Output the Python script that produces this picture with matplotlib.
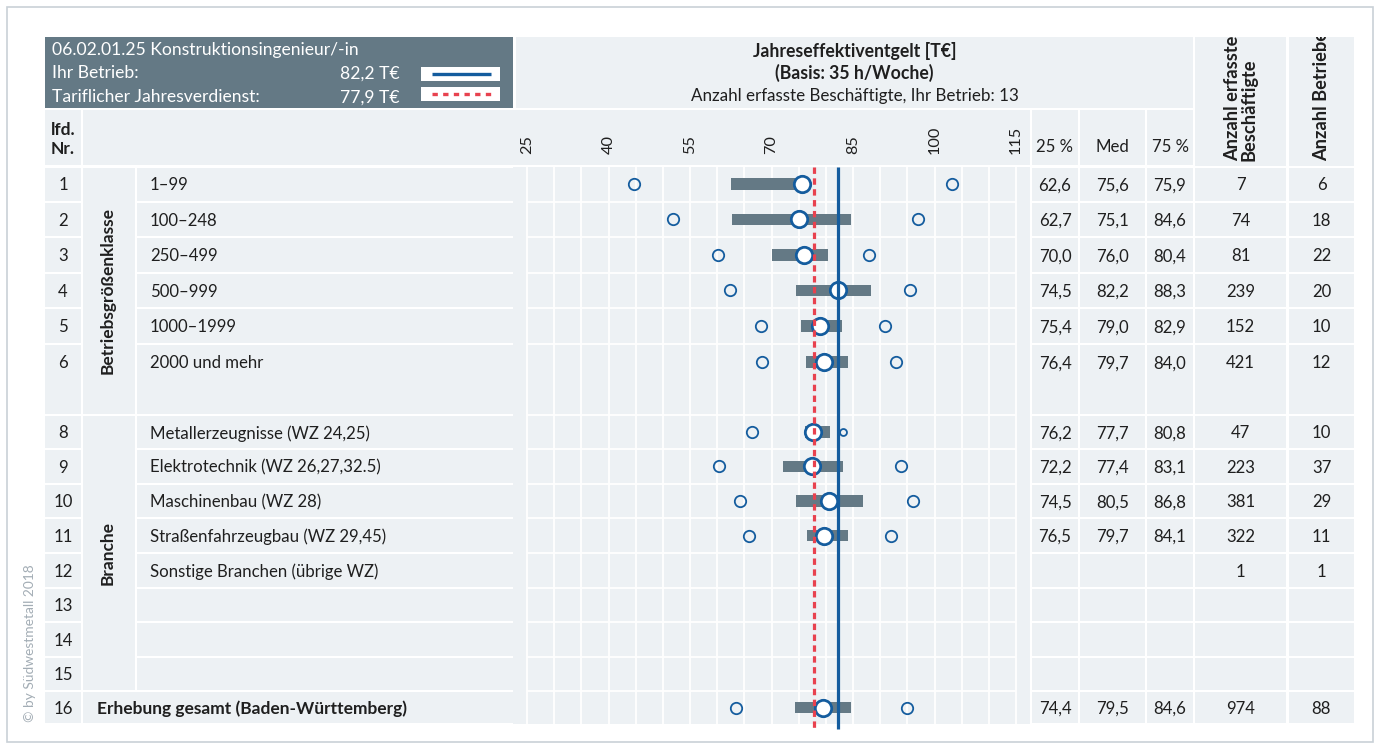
import matplotlib
matplotlib.use("Agg")
import matplotlib.pyplot as plt
from matplotlib.patches import Rectangle
from matplotlib.transforms import Bbox
import numpy as np

# ---------------- data ----------------
row_nr = [1, 2, 3, 4, 5, 6, 8, 9, 10, 11, 12, 13, 14, 15, 16]
row_labels = ["1–99", "100–248", "250–499", "500–999", "1000–1999", "2000 und mehr",
              "Metallerzeugnisse (WZ 24,25)", "Elektrotechnik (WZ 26,27,32.5)",
              "Maschinenbau (WZ 28)", "Straßenfahrzeugbau (WZ 29,45)",
              "Sonstige Branchen (übrige WZ)", "", "", "",
              "Erhebung gesamt (Baden-Württemberg)"]
q25 = [62.6, 62.7, 70.0, 74.5, 75.4, 76.4, 76.2, 72.2, 74.5, 76.5, None, None, None, None, 74.4]
median = [75.6, 75.1, 76.0, 82.2, 79.0, 79.7, 77.7, 77.4, 80.5, 79.7, None, None, None, None, 79.5]
q75 = [75.9, 84.6, 80.4, 88.3, 82.9, 84.0, 80.8, 83.1, 86.8, 84.1, None, None, None, None, 84.6]
p10 = [44.7, 51.9, 60.2, 62.4, 68.0, 68.2, 66.5, 60.4, 64.2, 65.8, None, None, None, None, 63.5]
p90 = [103.3, 96.9, 87.9, 95.5, 90.8, 93.0, 83.2, 93.9, 96.1, 92.0, None, None, None, None, 94.9]
n_employees = [7, 74, 81, 239, 152, 421, 47, 223, 381, 322, 1, None, None, None, 974]
n_firms = [6, 18, 22, 20, 10, 12, 10, 37, 29, 11, 1, None, None, None, 88]
groups = [("Betriebsgrößenklasse", 1, 7), ("Branche", 8, 15)]
total_row = 16
your_company = 82.2
tariff = 77.9
x_ticks = [25, 40, 55, 70, 85, 100, 115]
x_grid_step = 5
title_job = "06.02.01.25 Konstruktionsingenieur/-in"
label_your = "Ihr Betrieb:"
label_tariff = "Tariflicher Jahresverdienst:"
n_your = 13
title_lines = ["Jahreseffektiventgelt [T€]", "(Basis: 35 h/Woche)"]
sub_title = f"Anzahl erfasste Beschäftigte, Ihr Betrieb: {n_your}"
col_heads = ["25 %", "Med", "75 %"]
col_count_heads = ["Anzahl erfasste\nBeschäftigte", "Anzahl Betriebe"]
nr_head = "lfd.\nNr."
copyright_text = "© by Südwestmetall 2018"

# ---------------- style / layout ----------------
W, H = 1378, 749
FONT = ["Lato", "DejaVu Sans"]
SLATE = "#647985"
CELL = "#edf1f4"
TXT = "#1f1f1f"
BLUE = "#145c9e"
RED = "#e8424f"
BORDER = "#c9d1d7"
DY = 1.5   # small downward nudge of horizontal text

row_edges = [166.5, 201.5, 237, 272.5, 308, 344, 379.5, 415, 449, 483.5, 518,
             553, 587.5, 622, 656.5, 691, 724]
merged_down = {6: 7}          # row 6 cell also covers the empty row 7
cols = {"nr": (45, 81), "grp": (83, 135), "lab": (137, 513), "panel": (513, 1030),
        "q25": (1032, 1078), "med": (1080, 1145), "q75": (1147, 1193),
        "nemp": (1195, 1286), "nfirm": (1289, 1354)}
grid_px = (527, 1016)      # pixel positions of x = 25 and x = 115

fig = plt.figure(figsize=(W / 100, H / 100), dpi=100)
bg = fig.add_axes([0, 0, 1, 1])
bg.set_xlim(0, W)
bg.set_ylim(H, 0)
bg.axis("off")
renderer = fig.canvas.get_renderer()


def fit(s, target, weight="normal"):
    t = fig.text(0, 0, s, fontsize=10, family=FONT, weight=weight)
    w = t.get_window_extent(renderer).width
    t.remove()
    return 10 * target / w


fs_body = fit("Straßenfahrzeugbau (WZ 29,45)", 237)
fs_bold = fit("Erhebung gesamt (Baden-Württemberg)", 311, "bold")
fs_head = fit(title_job, 308)
fs_title = fit(title_lines[0], 203, "bold")
fs_sub = fit(sub_title, 328)
fs_copy = fit(copyright_text, 157)


def rect(x0, y0, x1, y1, color, z=0):
    bg.add_patch(Rectangle((x0, y0), x1 - x0, y1 - y0, facecolor=color,
                           edgecolor="none", zorder=z))


def txt(x, y, s, size=None, color=TXT, weight="normal", ha="left", va="center",
        rotation=0, **kw):
    if rotation == 0 and va == "center":
        y = y + DY
    return bg.text(x, y, s, fontsize=size or fs_body, color=color, weight=weight,
                   ha=ha, va=va, family=FONT, rotation=rotation, **kw)


# outer frame
bg.add_patch(Rectangle((7, 7), 1366, 735, facecolor="white", edgecolor=BORDER,
                       lw=1.2, zorder=-1))
txt(30, 722, copyright_text, size=fs_copy, color="#a3adb5", ha="center",
    va="bottom", rotation=90)

# ---------- header ----------
rect(45, 37, 513, 108, SLATE)
txt(52, 48, title_job, size=fs_head, color="white")
txt(52, 72, label_your, size=fs_head, color="white")
txt(52, 96, label_tariff, size=fs_head, color="white")
txt(400, 72, f"{your_company:.1f} T€".replace(".", ","), size=fs_head, color="white", ha="right")
txt(400, 96, f"{tariff:.1f} T€".replace(".", ","), size=fs_head, color="white", ha="right")
rect(421, 67, 500, 81, "white", 1)
rect(421, 87, 500, 101, "white", 1)
bg.plot([432, 491], [74, 74], color=BLUE, lw=2.4, solid_capstyle="butt", zorder=2)
bg.plot([432, 491], [94, 94], color=RED, lw=2.4, ls=(0, (1.6, 1.6)), zorder=2)

rect(516, 37, 1193, 108, CELL)
txt(854.5, 49, title_lines[0], size=fs_title, weight="bold", ha="center")
txt(854.5, 71, title_lines[1], size=fs_title, weight="bold", ha="center")
txt(854.5, 94, sub_title, size=fs_sub, ha="center")

for key, head in zip(["nemp", "nfirm"], col_count_heads):
    x0, x1 = cols[key]
    rect(x0, 37, x1, 166, CELL)
    t = txt((x0 + x1) / 2, 161, head, size=fs_bold * 1.05, weight="bold", ha="center",
            va="bottom", rotation=90, multialignment="left", linespacing=0.95)
    t.set_clip_box(Bbox([[x0, H - 166], [x1, H - 37]]))
    t.set_clip_on(True)

rect(45, 110, 81, 165, CELL)
txt(51, 138, nr_head, size=fs_bold, weight="bold", linespacing=1.25)
rect(83, 110, 1030, 165, CELL)
for key, head in zip(["q25", "med", "q75"], col_heads):
    x0, x1 = cols[key]
    rect(x0, 110, x1, 165, CELL)
    txt((x0 + x1) / 2, 145, head, ha="center")


# ---------- body cells ----------
def row_span(nr):
    top = row_edges[nr - 1]
    bottom = row_edges[merged_down.get(nr, nr)]
    center = (row_edges[nr - 1] + row_edges[nr]) / 2
    return top, bottom, center


def fmt(v):
    return "" if v is None else f"{v:.1f}".replace(".", ",")


for i, nr in enumerate(row_nr):
    top, bottom, yc = row_span(nr)
    x0, x1 = cols["nr"]
    rect(x0, top + 1, x1, bottom - 1, CELL)
    txt((x0 + x1) / 2, yc, str(nr), ha="center")
    if nr == total_row:
        rect(cols["grp"][0], top + 1, cols["lab"][1] + 13, bottom - 1, CELL)
        txt(97, yc, row_labels[i], size=fs_bold, weight="bold")
    else:
        rect(cols["lab"][0], top + 1, cols["lab"][1], bottom - 1, CELL)
        txt(150, yc, row_labels[i])
    for key, vals in zip(["q25", "med", "q75"], [q25, median, q75]):
        c0, c1 = cols[key]
        rect(c0, top + 1, c1, bottom - 1, CELL)
        txt((c0 + c1) / 2, yc, fmt(vals[i]), ha="center")
    for key, vals in zip(["nemp", "nfirm"], [n_employees, n_firms]):
        c0, c1 = cols[key]
        rect(c0, top + 1, c1, bottom - 1, CELL)
        txt((c0 + c1) / 2, yc, "" if vals[i] is None else str(vals[i]), ha="center")

for name, r0, r1 in groups:
    top = row_edges[r0 - 1] + 1
    bottom = row_edges[r1] - 1
    x0, x1 = cols["grp"]
    rect(x0, top, x1, bottom, CELL)
    txt((x0 + x1) / 2 - 1, (top + bottom) / 2, name, size=fs_bold, weight="bold",
        ha="center", rotation=90)

# ---------- chart panel ----------
p0, p1 = cols["panel"]
k = (grid_px[1] - grid_px[0]) / (x_ticks[-1] - x_ticks[0])
xlo = x_ticks[0] - (grid_px[0] - p0) / k
xhi = x_ticks[-1] + (p1 - grid_px[1]) / k
y_top, y_bot = row_edges[0], row_edges[-1]
ax = fig.add_axes([p0 / W, 1 - y_bot / H, (p1 - p0) / W, (y_bot - y_top) / H])
ax.set_facecolor(CELL)
ax.set_xlim(xlo, xhi)
ax.set_ylim(y_bot, y_top)
for s in ax.spines.values():
    s.set_visible(False)
ax.set_yticks([])
ax.xaxis.tick_top()
ax.set_xticks(x_ticks)
ax.set_xticklabels([str(t) for t in x_ticks], family=FONT, fontsize=fs_body * 0.97,
                   color=TXT)
ax.tick_params(axis="x", length=0, pad=9, labelrotation=90)

grid_vals = np.arange(x_ticks[0], x_ticks[-1] + 0.1, x_grid_step)
ax.vlines(grid_vals, y_top, y_bot, color="white", lw=1.3, zorder=1)
hidden_edges = {row_edges[r] for r in merged_down.keys()}
for e in row_edges[1:-1]:
    if e in hidden_edges:
        continue
    ax.hlines(e, x_ticks[0], x_ticks[-1], color="white", lw=1.3, zorder=1)

for i, nr in enumerate(row_nr):
    if median[i] is None:
        continue
    _, _, yc = row_span(nr)
    ax.barh(yc, q75[i] - q25[i], left=q25[i], height=11.5, color=SLATE, zorder=2)
    small = nr == 8
    ax.plot([p10[i]], [yc], "o", mfc="none", mec=BLUE, ms=8.2, mew=1.3, zorder=3)
    ax.plot([p90[i]], [yc], "o", mfc="none", mec=BLUE, ms=5 if small else 8.2,
            mew=1.3, zorder=3)
    ax.plot([median[i]], [yc], "o", mfc="white", mec=BLUE, ms=11.8, mew=2.0, zorder=4)

ax.plot([your_company, your_company], [y_top, y_bot + 5], color=BLUE, lw=2.3,
        zorder=5, clip_on=False, solid_capstyle="butt")
ax.plot([tariff, tariff], [y_top, y_bot + 5], color=RED, lw=2.3,
        ls=(0, (2.0, 1.4)), zorder=5, clip_on=False)

fig.savefig("out.png", dpi=100)
